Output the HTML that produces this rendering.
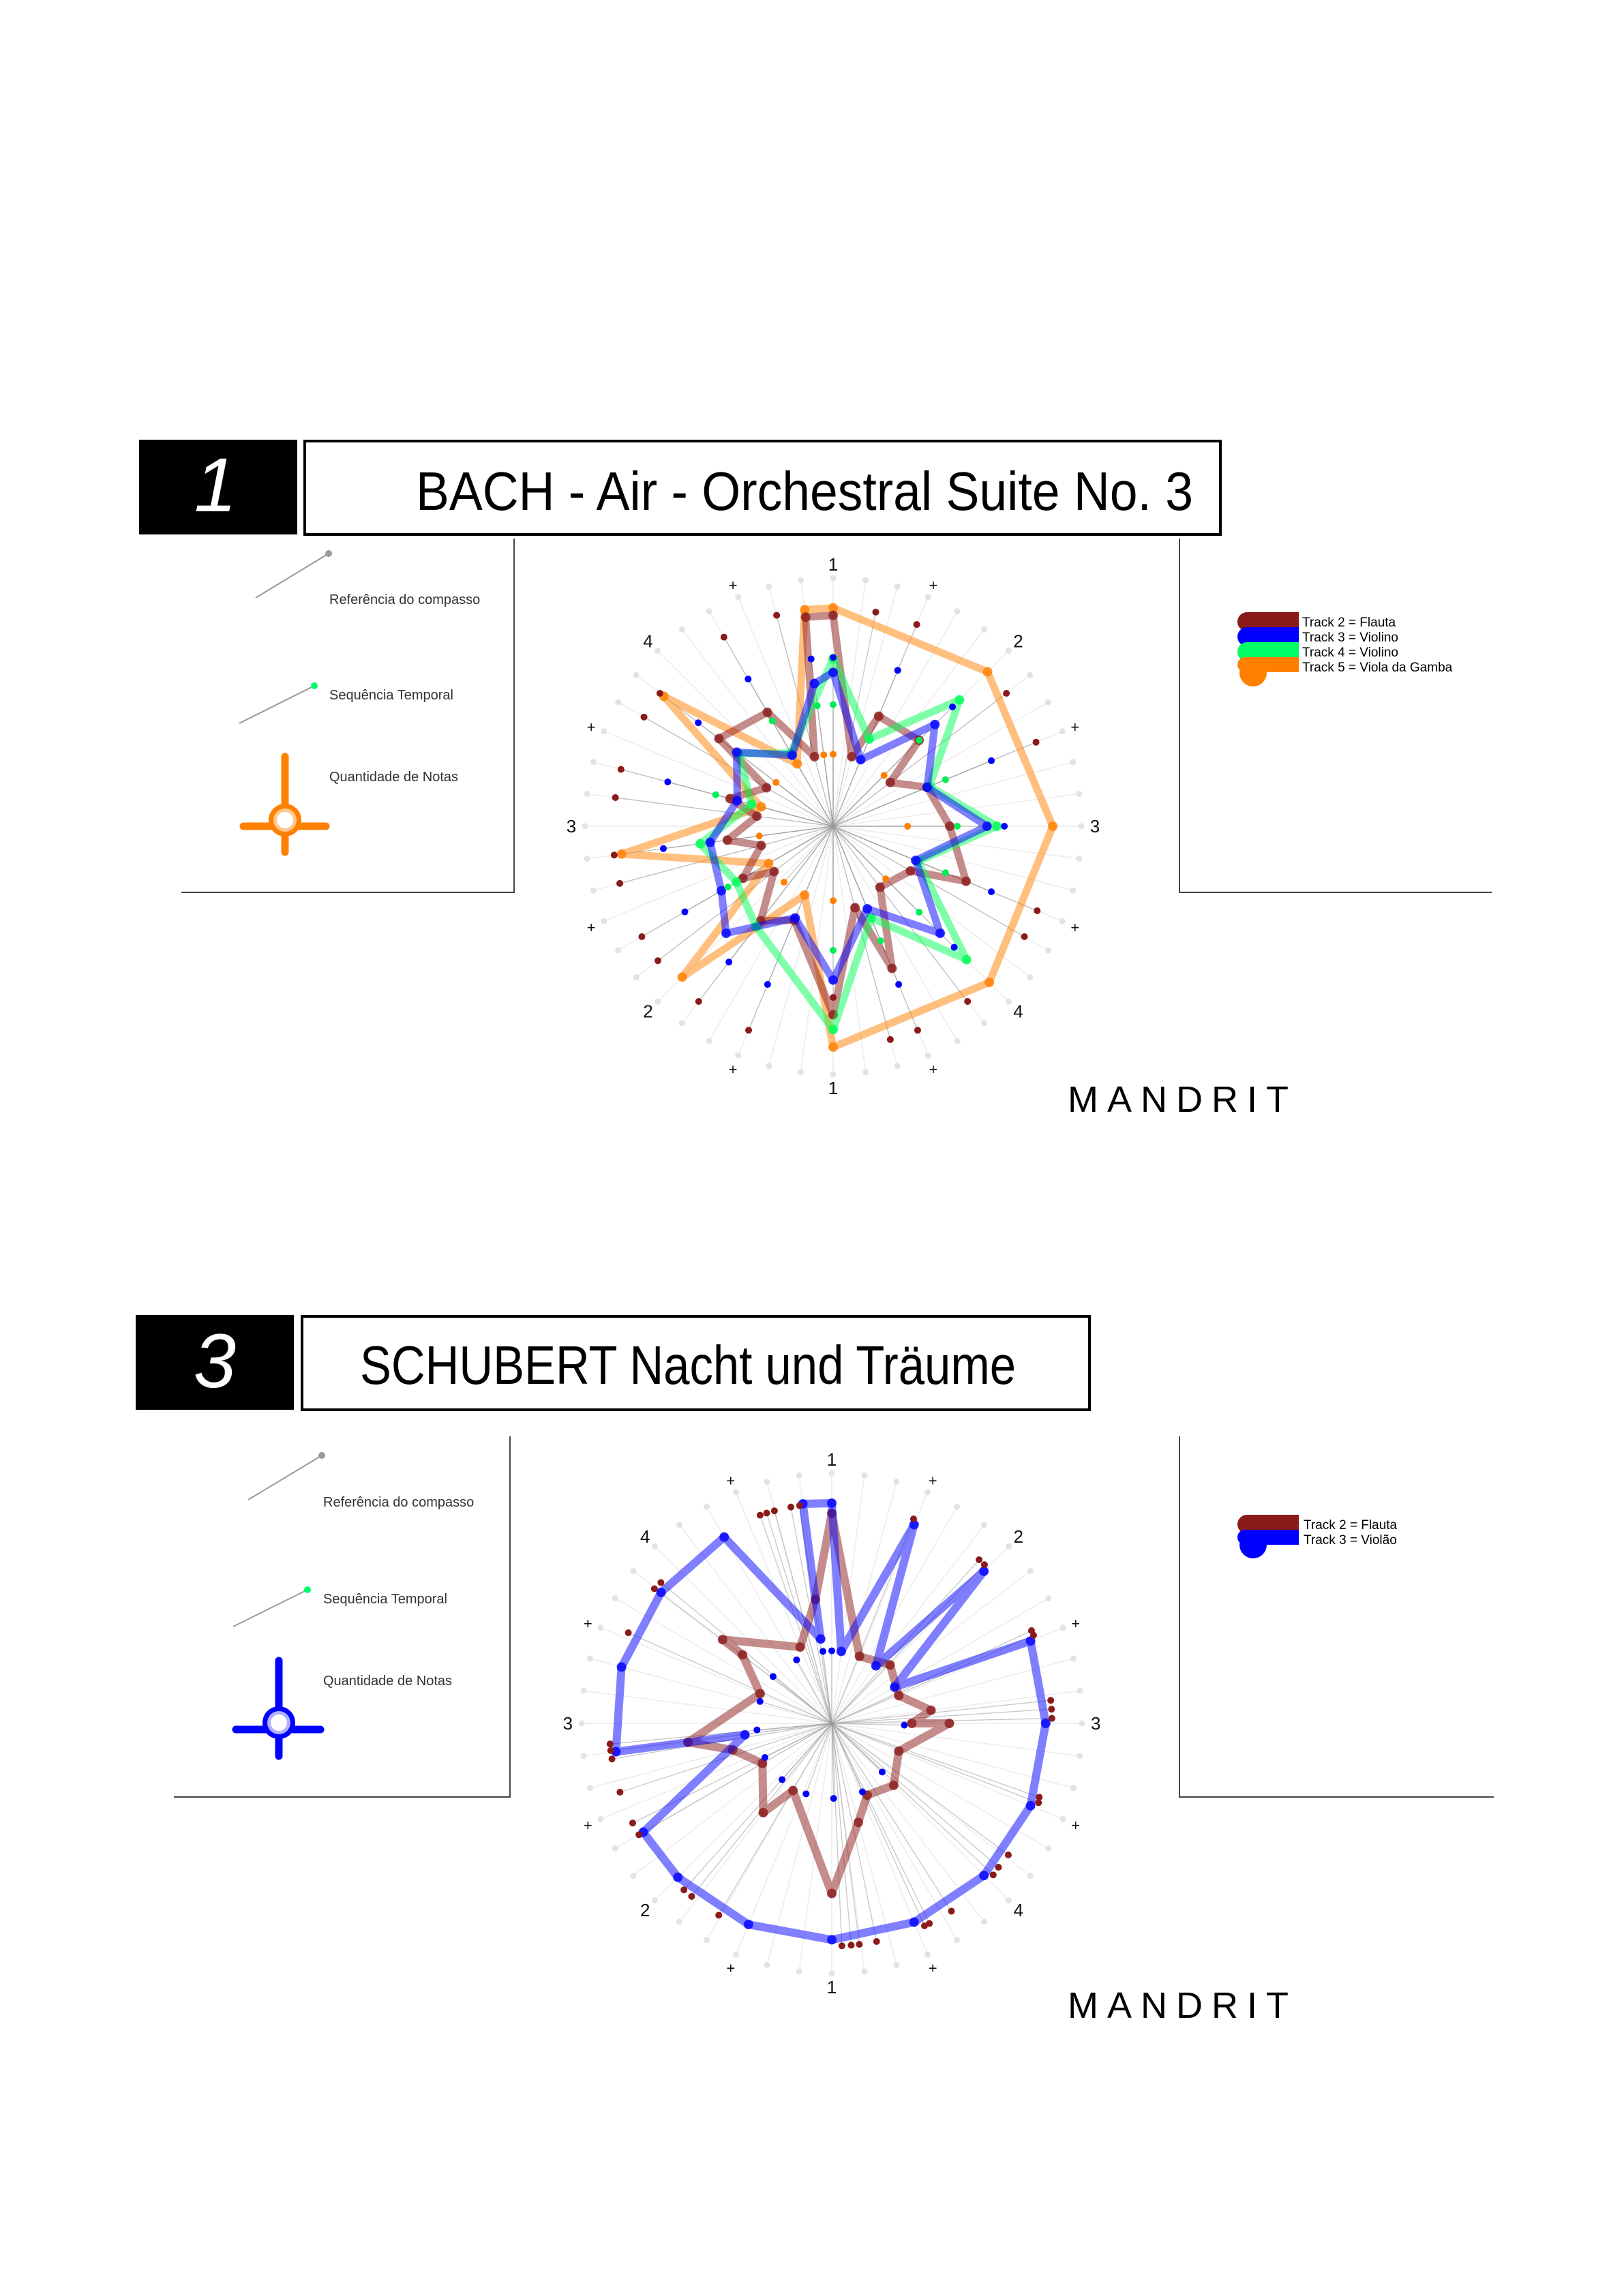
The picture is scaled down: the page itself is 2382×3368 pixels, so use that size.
<!DOCTYPE html>
<html><head><meta charset="utf-8"><style>
html,body{margin:0;padding:0;background:#fff;}
svg{display:block;font-family:"Liberation Sans",sans-serif;}
</style></head><body>
<svg id="page" width="2382" height="3368" viewBox="0 0 2382 3368" xmlns="http://www.w3.org/2000/svg">
<rect width="2382" height="3368" fill="#fff"/>
<g>
<rect x="204" y="645" width="232" height="139" fill="#000"/>
<text x="316" y="750" font-size="112" fill="#fff" font-style="italic" text-anchor="middle">1</text>
<rect x="447" y="647" width="1343" height="137" fill="#fff" stroke="#000" stroke-width="4"/>
<text x="610" y="748" font-size="80" fill="#000" textLength="1140" lengthAdjust="spacingAndGlyphs">BACH - Air - Orchestral Suite No. 3</text>
</g>
<g>
<line x1="754" y1="790" x2="754" y2="1310" stroke="#444" stroke-width="2"/>
<line x1="266" y1="1309" x2="754" y2="1309" stroke="#444" stroke-width="2"/>
<line x1="375" y1="877" x2="482" y2="812" stroke="#999" stroke-width="2"/>
<circle cx="482" cy="812" r="5" fill="#999"/>
<text x="483" y="886" font-size="20" fill="#333">Referência do compasso</text>
<line x1="351" y1="1061" x2="461" y2="1006" stroke="#999" stroke-width="2"/>
<circle cx="461" cy="1006" r="5" fill="#00ff66"/>
<text x="483" y="1026" font-size="20" fill="#333">Sequência Temporal</text>
<line x1="418" y1="1110" x2="418" y2="1250" stroke="#ff8000" stroke-width="11" stroke-linecap="round"/>
<line x1="357" y1="1212" x2="478" y2="1212" stroke="#ff8000" stroke-width="11" stroke-linecap="round"/>
<circle cx="418" cy="1203" r="24" fill="#ff8000"/>
<circle cx="418" cy="1203" r="17" fill="#ffc890"/>
<circle cx="418" cy="1203" r="12" fill="#fff"/>
<text x="483" y="1146" font-size="20" fill="#333">Quantidade de Notas</text>
</g>
<g>
<line x1="1730" y1="790" x2="1730" y2="1310" stroke="#444" stroke-width="2"/>
<line x1="1730" y1="1309" x2="2188" y2="1309" stroke="#444" stroke-width="2"/>
<circle cx="1838" cy="987" r="20" fill="#ff8000"/>
<rect x="1815" y="898" width="90" height="28" rx="14" fill="#8b1a1a"/><rect x="1840" y="898" width="65" height="22" fill="#8b1a1a"/>
<rect x="1815" y="920" width="90" height="28" rx="14" fill="#0000ff"/><rect x="1840" y="920" width="65" height="22" fill="#0000ff"/>
<rect x="1815" y="942" width="90" height="28" rx="14" fill="#00ff66"/><rect x="1840" y="942" width="65" height="22" fill="#00ff66"/>
<rect x="1815" y="964" width="90" height="22" rx="11" fill="#ff8000"/><rect x="1840" y="964" width="65" height="22" fill="#ff8000"/>
<text x="1910" y="919" font-size="19" fill="#000">Track 2 = Flauta</text>
<text x="1910" y="941" font-size="19" fill="#000">Track 3 = Violino</text>
<text x="1910" y="963" font-size="19" fill="#000">Track 4 = Violino</text>
<text x="1910" y="985" font-size="19" fill="#000">Track 5 = Viola da Gamba</text>
</g>
<text x="1566" y="1631" font-size="54" fill="#000" letter-spacing="13">MANDRIT</text>

<g>
<rect x="199" y="1929" width="232" height="139" fill="#000"/>
<text x="315" y="2035" font-size="112" fill="#fff" font-style="italic" text-anchor="middle">3</text>
<rect x="443" y="1931" width="1155" height="137" fill="#fff" stroke="#000" stroke-width="4"/>
<text x="528" y="2030" font-size="80" fill="#000" textLength="962" lengthAdjust="spacingAndGlyphs">SCHUBERT Nacht und Träume</text>
</g>
<g>
<line x1="748" y1="2107" x2="748" y2="2637" stroke="#444" stroke-width="2"/>
<line x1="255" y1="2636" x2="748" y2="2636" stroke="#444" stroke-width="2"/>
<line x1="364" y1="2200" x2="472" y2="2135" stroke="#999" stroke-width="2"/>
<circle cx="472" cy="2135" r="5" fill="#999"/>
<text x="474" y="2210" font-size="20" fill="#333">Referência do compasso</text>
<line x1="342" y1="2386" x2="451" y2="2332" stroke="#999" stroke-width="2"/>
<circle cx="451" cy="2332" r="5" fill="#00ff66"/>
<text x="474" y="2352" font-size="20" fill="#333">Sequência Temporal</text>
<line x1="409" y1="2436" x2="409" y2="2576" stroke="#0000ff" stroke-width="11" stroke-linecap="round"/>
<line x1="346" y1="2537" x2="470" y2="2537" stroke="#0000ff" stroke-width="11" stroke-linecap="round"/>
<circle cx="409" cy="2527" r="24" fill="#0000ff"/>
<circle cx="409" cy="2527" r="17" fill="#b0b0ff"/>
<circle cx="409" cy="2527" r="12" fill="#fff"/>
<text x="474" y="2472" font-size="20" fill="#333">Quantidade de Notas</text>
</g>
<g>
<line x1="1730" y1="2107" x2="1730" y2="2637" stroke="#444" stroke-width="2"/>
<line x1="1730" y1="2636" x2="2191" y2="2636" stroke="#444" stroke-width="2"/>
<circle cx="1838" cy="2266" r="20" fill="#0000ff"/>
<rect x="1815" y="2222" width="90" height="28" rx="14" fill="#8b1a1a"/><rect x="1840" y="2222" width="65" height="22" fill="#8b1a1a"/>
<rect x="1815" y="2244" width="90" height="22" rx="11" fill="#0000ff"/><rect x="1840" y="2244" width="65" height="22" fill="#0000ff"/>
<text x="1912" y="2243" font-size="19" fill="#000">Track 2 = Flauta</text>
<text x="1912" y="2265" font-size="19" fill="#000">Track 3 = Violão</text>
</g>
<text x="1566" y="2960" font-size="54" fill="#000" letter-spacing="13">MANDRIT</text>

<g id="chart1"></g>
<g id="chart2"></g>
</svg>
<script>
const beatLabels = ['1','+','2','+','3','+','4','+','1','+','2','+','3','+','4','+'];

const bachOrangeBeats = [47,0,6,12,18,24,27,30,32,35,38,41,44];
const bachOrangeVals  = [.88,.88,.88,.885,.89,.89,.30,.86,.30,.86,.30,.86,.29];
const bachBrownBeats  = [46,47,0,2,3,6,7,9,12,15,16,19,21,22,24,27,29,31,32,34,35,37,38,40,41,44];
const bachBrownVals   = [.29,.85,.85,.29,.48,.49,.29,.41,.47,.58,.36,.31,.62,.34,.76,.41,.48,.30,.42,.30,.43,.31,.43,.31,.58,.53];
const bachBlueBeats   = [47,0,3,6,9,12,15,18,21,24,27,30,32,35,38,41,44];
const bachBlueVals    = [.58,.62,.29,.58,.41,.62,.36,.61,.36,.62,.40,.61,.52,.50,.40,.49,.33];
const bachGreenBeats  = [0,3,6,9,12,15,18,21,24,29,32,35,38,41,44];
const bachGreenVals   = [.675,.38,.72,.42,.66,.37,.76,.40,.82,.51,.45,.54,.34,.48,.34];

const bachBrownDotBeats = [46,44,41,40,38,37,35,34,32,31,29,27,22,21,19,16,15,9,7,3,1.5,24];
const bachBrownDotVals  = [.88,.88,.88,.88,.885,.885,.89,.89,.89,.89,.89,.89,.89,.89,.89,.89,.89,.885,.88,.88,.88,.69];
const bachBlueDotBeats  = [47,0,3,44,41,38,35,32,29,27,21,18,15,12,9,6];
const bachBlueDotVals   = [.68,.68,.68,.685,.685,.69,.69,.69,.69,.69,.69,.69,.69,.69,.69,.68];
const bachGreenDotBeats = [47,0,44,6,9,12,15,18,21,24,32,38];
const bachGreenDotVals  = [.49,.49,.49,.49,.49,.50,.49,.49,.50,.50,.49,.49];
const bachOrangeDotBeats= [47,0,6,12,18,24,29.5,35,41];
const bachOrangeDotVals = [.29,.29,.29,.30,.30,.30,.30,.30,.29];

const schBlueBeats = [47,0,1,3,5,6,8,9,12,15,18,21,24,27,30,32,35,35,38,41,44,47];
const schBlueVals  = [.885,.88,.29,.86,.29,.86,.29,.86,.855,.86,.86,.86,.865,.87,.87,.87,.35,.87,.87,.86,.86,.34];
const schBrownBeats = [0,3,6,9,11,12,12,15,18,20.5,22,24,28,29,32,34,35,39,41,41,45,47];
const schBrownVals  = [.84,.29,.33,.29,.40,.32,.47,.29,.35,.32,.41,.68,.31,.45,.32,.41,.58,.31,.45,.55,.33,.50];

const schBrownDotDeg = [341,342.8,344.9,349.3,351.6,21.8,42,43.9,65.1,66.4,84,86.3,88.7,109.6,111,126.7,130.8,133.2,147.5,154,155.4,168.4,172.9,175,177.4,210.5,219,221.6,240,243.4,252,260.8,263,264.7,294,307.2,309.5];
const schBrownDotVals = [.88,.88,.88,.88,.88,.88,.88,.88,.88,.88,.88,.88,.88,.88,.885,.88,.88,.885,.89,.89,.89,.89,.89,.89,.89,.89,.89,.89,.89,.89,.89,.89,.89,.89,.89,.89,.885];
const schBlueDotDeg = [353,0,331,308.6,287,265,243,221.5,200,178.6,155.9,91.4,134];
const schBlueDotVals = [.29,.29,.29,.30,.30,.30,.30,.30,.30,.30,.30,.29,.28];

const NS = 'http://www.w3.org/2000/svg';
function mk(parent, tag, attrs){ const e=document.createElementNS(NS,tag); for(const k in attrs) e.setAttribute(k,attrs[k]); parent.appendChild(e); return e; }
function angleOfBeat(b){ return b*7.5; }
function pt(cx,cy,R,deg,v){ const a=deg*Math.PI/180; return [cx+Math.sin(a)*R*v, cy-Math.cos(a)*R*v]; }

function drawFrame(g,cx,cy,R,noteDegs){
  for(let i=0;i<48;i++){
    const [x,y]=pt(cx,cy,R,angleOfBeat(i),1);
    const l=mk(g,'line',{x1:cx,y1:cy,x2:x,y2:y,stroke:'#ececec','stroke-width':1.5});
    
    
    const c=mk(g,'circle',{cx:x,cy:y,r:4.5,fill:'#e3e3e3'});
    
    
  }
  noteDegs.forEach(([d,v])=>{
    const [x,y]=pt(cx,cy,R,d,v);
    const l=mk(g,'line',{x1:cx,y1:cy,x2:x,y2:y,stroke:'#999','stroke-width':1.3,'stroke-opacity':.55});
    
    
  });
  beatLabels.forEach((t,i)=>{
    const [x,y]=pt(cx,cy,R,i*22.5,1.055);
    const tx=mk(g,'text',{x:x,y:y+9,'font-size':t==='+'?22:26,'text-anchor':'middle',fill:'#111'});
    tx.textContent=t;
    
    
  });
}
function drawSeries(g,cx,cy,R,beats,vals,color,w,name){
  const pts=beats.map((b,i)=>pt(cx,cy,R,angleOfBeat(b),vals[i]));
  const p=mk(g,'path',{d:'M'+pts.map(q=>q[0].toFixed(1)+','+q[1].toFixed(1)).join('L')+'Z',fill:'none',stroke:color,'stroke-width':w,'stroke-opacity':.5,'stroke-linejoin':'round'});
  
  
  pts.forEach(q=>{
    const c=mk(g,'circle',{cx:q[0],cy:q[1],r:7,fill:color,'fill-opacity':.8});
    
    
  });
}
function drawDots(g,cx,cy,R,degs,vals,color,name){
  degs.forEach((d,i)=>{
    const [x,y]=pt(cx,cy,R,d,vals[i]);
    const c=mk(g,'circle',{cx:x,cy:y,r:5,fill:color});
    
    
  });
}
const toDeg = arr => arr.map(angleOfBeat);
const pair = (d,v) => d.map((x,i)=>[x,v[i]]);

(function(){
  const g=document.getElementById('chart1'); const cx=1222, cy=1212, R=364;
  const notes=[].concat(pair(toDeg(bachBrownDotBeats),bachBrownDotVals),pair(toDeg(bachBlueDotBeats),bachBlueDotVals),pair(toDeg(bachGreenDotBeats),bachGreenDotVals),pair(toDeg(bachOrangeDotBeats),bachOrangeDotVals));
  drawFrame(g,cx,cy,R,notes);
  drawSeries(g,cx,cy,R,bachOrangeBeats,bachOrangeVals,'#ff8000',11,'viola-da-gamba');
  drawSeries(g,cx,cy,R,bachBrownBeats,bachBrownVals,'#8b1a1a',11,'flauta');
  drawSeries(g,cx,cy,R,bachGreenBeats,bachGreenVals,'#00ff55',11,'violino-4');
  drawSeries(g,cx,cy,R,bachBlueBeats,bachBlueVals,'#0000ff',11,'violino-3');
  drawDots(g,cx,cy,R,toDeg(bachBrownDotBeats),bachBrownDotVals,'#8b1a1a','flauta-note');
  drawDots(g,cx,cy,R,toDeg(bachBlueDotBeats),bachBlueDotVals,'#0000ff','violino-3-note');
  drawDots(g,cx,cy,R,toDeg(bachGreenDotBeats),bachGreenDotVals,'#00ee55','violino-4-note');
  drawDots(g,cx,cy,R,toDeg(bachOrangeDotBeats),bachOrangeDotVals,'#ff8000','viola-note');
})();
(function(){
  const g=document.getElementById('chart2'); const cx=1220, cy=2528, R=367;
  const notes=[].concat(pair(schBrownDotDeg,schBrownDotVals),pair(schBlueDotDeg,schBlueDotVals));
  drawFrame(g,cx,cy,R,notes);
  drawSeries(g,cx,cy,R,schBrownBeats,schBrownVals,'#8b1a1a',12,'flauta');
  drawSeries(g,cx,cy,R,schBlueBeats,schBlueVals,'#0000ff',12,'violao');
  drawDots(g,cx,cy,R,schBrownDotDeg,schBrownDotVals,'#8b1a1a','flauta-note');
  drawDots(g,cx,cy,R,schBlueDotDeg,schBlueDotVals,'#0000ff','violao-note');
})();
</script>
</body></html>
